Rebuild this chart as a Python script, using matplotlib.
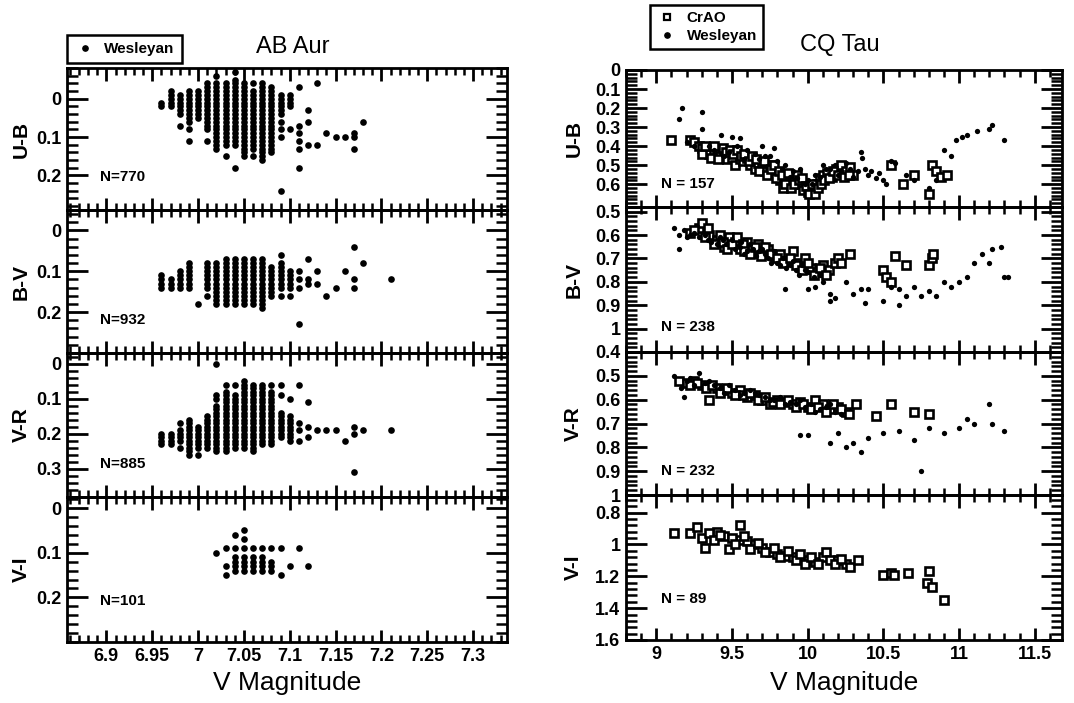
import numpy as np
import matplotlib.pyplot as plt
from matplotlib.ticker import FixedLocator, MultipleLocator, NullFormatter
from matplotlib.lines import Line2D

plt.rcParams['font.family'] = ['Liberation Sans Narrow', 'Liberation Sans', 'DejaVu Sans']

# ---------------- AB Aur (Wesleyan), columns of (V, colour values) ----------------
ab_ub = [
    (6.96, [0.01, 0.02]),
    (6.97, [-0.02, -0.01, 0.00, 0.01, 0.02]),
    (6.98, [-0.01, 0.00, 0.01, 0.02, 0.03, 0.04, 0.07]),
    (6.99, [-0.02, -0.01, 0.00, 0.01, 0.02, 0.03, 0.04, 0.05, 0.06, 0.08, 0.11]),
    (7.00, [-0.02, -0.01, 0.00, 0.01, 0.02, 0.03, 0.04, 0.05]),
    (7.01, [-0.04, -0.03, -0.02, -0.01, 0.00, 0.01, 0.02, 0.03, 0.04, 0.05, 0.06, 0.07, 0.08, 0.11]),
    (7.02, [-0.06, -0.04, -0.03, -0.02, -0.01, 0.00, 0.01, 0.02, 0.03, 0.04, 0.05, 0.06, 0.07, 0.08, 0.09, 0.10, 0.11, 0.12, 0.13]),
    (7.03, [-0.04, -0.03, -0.02, -0.01, 0.00, 0.01, 0.02, 0.03, 0.04, 0.05, 0.06, 0.07, 0.08, 0.09, 0.10, 0.11, 0.12, 0.15]),
    (7.04, [-0.07, -0.05, -0.04, -0.03, -0.02, -0.01, 0.00, 0.01, 0.02, 0.03, 0.04, 0.05, 0.06, 0.07, 0.08, 0.09, 0.10, 0.11, 0.12, 0.18]),
    (7.05, [-0.04, -0.03, -0.02, -0.01, 0.00, 0.01, 0.02, 0.03, 0.04, 0.05, 0.06, 0.07, 0.08, 0.09, 0.10, 0.11, 0.12, 0.13, 0.14, 0.15]),
    (7.06, [-0.04, -0.02, -0.01, 0.00, 0.01, 0.02, 0.03, 0.04, 0.05, 0.06, 0.07, 0.08, 0.09, 0.10, 0.11, 0.12, 0.13, 0.15]),
    (7.07, [-0.04, -0.03, -0.02, -0.01, 0.00, 0.01, 0.02, 0.03, 0.04, 0.05, 0.06, 0.07, 0.08, 0.09, 0.10, 0.11, 0.12, 0.13, 0.14, 0.15, 0.16]),
    (7.08, [-0.03, -0.02, -0.01, 0.00, 0.01, 0.02, 0.03, 0.04, 0.05, 0.06, 0.07, 0.08, 0.09, 0.10, 0.11, 0.12, 0.13, 0.14]),
    (7.09, [-0.01, 0.00, 0.01, 0.02, 0.03, 0.04, 0.06, 0.08, 0.10, 0.24]),
    (7.10, [-0.01, 0.00, 0.01, 0.02, 0.08]),
    (7.11, [-0.03, 0.07, 0.09, 0.11, 0.13, 0.18]),
    (7.12, [0.03, 0.06, 0.12]),
    (7.13, [-0.04, 0.12]),
    (7.14, [0.09]),
    (7.15, [0.10]),
    (7.16, [0.10]),
    (7.17, [0.09, 0.10, 0.13]),
    (7.18, [0.06]),
]

ab_bv = [
    (6.96, [0.11, 0.12, 0.13, 0.14]),
    (6.97, [0.12, 0.13, 0.14]),
    (6.98, [0.10, 0.11, 0.12, 0.13, 0.14]),
    (6.99, [0.08, 0.09, 0.10, 0.11, 0.12, 0.13, 0.14]),
    (7.00, [0.18]),
    (7.01, [0.08, 0.09, 0.10, 0.11, 0.12, 0.13, 0.14, 0.16]),
    (7.02, [0.08, 0.09, 0.10, 0.11, 0.12, 0.13, 0.14, 0.15, 0.16, 0.17, 0.18]),
    (7.03, [0.07, 0.08, 0.09, 0.10, 0.11, 0.12, 0.13, 0.14, 0.15, 0.16, 0.17, 0.18]),
    (7.04, [0.07, 0.08, 0.09, 0.10, 0.11, 0.12, 0.13, 0.14, 0.15, 0.16, 0.17, 0.18]),
    (7.05, [0.07, 0.08, 0.09, 0.10, 0.11, 0.12, 0.13, 0.14, 0.15, 0.16, 0.17, 0.18]),
    (7.06, [0.07, 0.08, 0.09, 0.10, 0.11, 0.12, 0.13, 0.14, 0.15, 0.16, 0.17, 0.18]),
    (7.07, [0.07, 0.08, 0.09, 0.10, 0.11, 0.12, 0.13, 0.14, 0.15, 0.16, 0.17, 0.18, 0.19]),
    (7.08, [0.09, 0.10, 0.11, 0.12, 0.13, 0.14, 0.15, 0.16]),
    (7.09, [0.06, 0.08, 0.09, 0.10, 0.11, 0.12, 0.13, 0.14, 0.16]),
    (7.10, [0.10, 0.11, 0.12, 0.13, 0.14, 0.16]),
    (7.11, [0.10, 0.12, 0.14, 0.23]),
    (7.12, [0.07, 0.12, 0.13]),
    (7.13, [0.10, 0.13]),
    (7.14, [0.16]),
    (7.15, [0.14]),
    (7.16, [0.10]),
    (7.17, [0.04, 0.12, 0.14]),
    (7.18, [0.08]),
    (7.21, [0.12]),
]

ab_vr = [
    (6.96, [0.20, 0.21, 0.22, 0.23]),
    (6.97, [0.20, 0.21, 0.22, 0.23]),
    (6.98, [0.17, 0.19, 0.20, 0.21, 0.22, 0.24]),
    (6.99, [0.16, 0.17, 0.18, 0.19, 0.20, 0.21, 0.22, 0.23, 0.24, 0.25, 0.26]),
    (7.00, [0.18, 0.19, 0.20, 0.21, 0.22, 0.23, 0.24, 0.26]),
    (7.01, [0.15, 0.16, 0.17, 0.18, 0.19, 0.20, 0.21, 0.22, 0.23, 0.24]),
    (7.02, [0.00, 0.09, 0.10, 0.12, 0.13, 0.14, 0.15, 0.16, 0.17, 0.18, 0.19, 0.20, 0.21, 0.22, 0.23, 0.24, 0.25]),
    (7.03, [0.06, 0.08, 0.09, 0.10, 0.11, 0.12, 0.13, 0.14, 0.15, 0.16, 0.17, 0.18, 0.19, 0.20, 0.21, 0.22, 0.23, 0.24, 0.25]),
    (7.04, [0.06, 0.09, 0.10, 0.11, 0.12, 0.13, 0.14, 0.15, 0.16, 0.17, 0.18, 0.19, 0.20, 0.21, 0.22, 0.23, 0.24]),
    (7.05, [0.05, 0.06, 0.07, 0.08, 0.09, 0.10, 0.11, 0.12, 0.13, 0.14, 0.15, 0.16, 0.17, 0.18, 0.19, 0.20, 0.21, 0.22, 0.23, 0.24]),
    (7.06, [0.06, 0.07, 0.08, 0.09, 0.10, 0.11, 0.12, 0.13, 0.14, 0.15, 0.16, 0.17, 0.18, 0.19, 0.20, 0.21, 0.22, 0.23, 0.24, 0.25]),
    (7.07, [0.06, 0.07, 0.08, 0.09, 0.10, 0.11, 0.12, 0.13, 0.14, 0.15, 0.16, 0.17, 0.18, 0.19, 0.20, 0.21, 0.22, 0.23]),
    (7.08, [0.06, 0.08, 0.09, 0.10, 0.11, 0.12, 0.13, 0.14, 0.15, 0.16, 0.17, 0.18, 0.19, 0.20, 0.21, 0.22, 0.23]),
    (7.09, [0.06, 0.09, 0.14, 0.15, 0.16, 0.17, 0.18, 0.19, 0.20, 0.21]),
    (7.10, [0.10, 0.15, 0.16, 0.17, 0.18, 0.19, 0.20, 0.21, 0.22]),
    (7.11, [0.06, 0.17, 0.19, 0.22]),
    (7.12, [0.11, 0.18, 0.21]),
    (7.13, [0.19]),
    (7.14, [0.19]),
    (7.15, [0.19]),
    (7.16, [0.22]),
    (7.17, [0.18, 0.20, 0.31]),
    (7.18, [0.19]),
    (7.21, [0.19]),
]

ab_vi = [
    (7.02, [0.10]),
    (7.03, [0.09, 0.13, 0.15]),
    (7.04, [0.06, 0.09, 0.11, 0.12, 0.13, 0.14]),
    (7.05, [0.05, 0.07, 0.09, 0.11, 0.12, 0.13, 0.14]),
    (7.06, [0.09, 0.11, 0.12, 0.13, 0.14]),
    (7.07, [0.09, 0.11, 0.12, 0.13, 0.14]),
    (7.08, [0.09, 0.12, 0.13, 0.14]),
    (7.09, [0.09, 0.15]),
    (7.10, [0.13]),
    (7.11, [0.09]),
    (7.12, [0.13]),
]

# ---------------- CQ Tau, (V, colour) pairs ----------------
cq_ub_crao = [
    (9.10, 0.37), (9.22, 0.37), (9.25, 0.38), (9.28, 0.40), (9.30, 0.41), (9.33, 0.42),
    (9.35, 0.44), (9.38, 0.43), (9.40, 0.42), (9.42, 0.45), (9.45, 0.44), (9.47, 0.47),
    (9.50, 0.46), (9.52, 0.50), (9.55, 0.47), (9.57, 0.48), (9.60, 0.46), (9.62, 0.50),
    (9.65, 0.52), (9.67, 0.49), (9.70, 0.51), (9.72, 0.53), (9.75, 0.50), (9.77, 0.54),
    (9.80, 0.55), (9.82, 0.58), (9.84, 0.62), (9.86, 0.56), (9.88, 0.59), (9.90, 0.57),
    (9.93, 0.55), (9.95, 0.60), (9.97, 0.63), (10.00, 0.64), (10.02, 0.62), (10.04, 0.63),
    (10.06, 0.60), (10.08, 0.57), (10.10, 0.55), (10.13, 0.54), (10.16, 0.56), (10.19, 0.52),
    (10.22, 0.50), (10.25, 0.53), (10.28, 0.51), (10.30, 0.55), (10.55, 0.50), (10.63, 0.60),
    (10.70, 0.55), (10.82, 0.50), (10.85, 0.53), (10.88, 0.56), (10.92, 0.55), (10.80, 0.65),
    (9.30, 0.44), (9.32, 0.40), (9.36, 0.46), (9.38, 0.40), (9.41, 0.47), (9.44, 0.41),
    (9.46, 0.43), (9.49, 0.42), (9.51, 0.44), (9.53, 0.42), (9.56, 0.45), (9.58, 0.44),
    (9.61, 0.48), (9.63, 0.45), (9.66, 0.47), (9.68, 0.53), (9.71, 0.48), (9.73, 0.55),
    (9.76, 0.52), (9.78, 0.50), (9.79, 0.57), (9.81, 0.53), (9.83, 0.55), (9.85, 0.60),
    (9.87, 0.54), (9.89, 0.62), (9.91, 0.60), (9.94, 0.58), (9.96, 0.57), (9.99, 0.61),
    (10.01, 0.65), (10.03, 0.60), (10.05, 0.65), (10.07, 0.62), (10.09, 0.60), (10.11, 0.58),
    (10.14, 0.57), (10.17, 0.53), (10.20, 0.55), (10.24, 0.56), (10.27, 0.55),
]
cq_ub_wes = [
    (9.17, 0.20), (9.15, 0.26), (9.30, 0.22), (9.30, 0.31), (9.43, 0.34), (9.50, 0.35),
    (9.55, 0.36), (9.53, 0.40), (9.20, 0.38), (9.35, 0.40), (9.45, 0.45), (9.60, 0.42),
    (9.65, 0.44), (9.70, 0.40), (9.75, 0.45), (9.80, 0.48), (9.78, 0.41), (9.85, 0.50),
    (9.90, 0.53), (9.95, 0.52), (10.00, 0.58), (10.05, 0.55), (10.10, 0.50), (10.15, 0.52),
    (10.20, 0.55), (10.25, 0.49), (10.28, 0.52), (10.30, 0.56), (10.33, 0.53), (10.35, 0.43),
    (10.36, 0.46), (10.40, 0.55), (10.45, 0.57), (10.50, 0.58), (10.52, 0.60), (10.55, 0.48),
    (10.58, 0.49), (10.65, 0.55), (10.70, 0.58), (10.80, 0.62), (10.85, 0.58), (10.90, 0.42),
    (10.95, 0.45), (10.98, 0.37), (11.02, 0.35), (11.05, 0.34), (11.20, 0.31), (11.22, 0.29),
    (11.30, 0.37), (11.12, 0.32),
    (9.25, 0.40), (9.38, 0.42), (9.48, 0.43), (9.58, 0.47), (9.68, 0.47), (9.72, 0.45),
    (9.83, 0.52), (9.88, 0.56), (9.93, 0.57), (9.98, 0.60), (10.03, 0.60), (10.08, 0.56),
    (10.12, 0.52), (10.18, 0.50), (10.22, 0.53), (10.38, 0.52), (10.42, 0.53), (10.47, 0.54),
]

cq_bv_crao = [
    (9.22, 0.59), (9.28, 0.57), (9.30, 0.55), (9.35, 0.60), (9.40, 0.62), (9.45, 0.65),
    (9.48, 0.61), (9.52, 0.63), (9.55, 0.66), (9.60, 0.63), (9.63, 0.66), (9.67, 0.64),
    (9.70, 0.67), (9.74, 0.66), (9.78, 0.69), (9.82, 0.68), (9.86, 0.71), (9.90, 0.67),
    (9.94, 0.72), (9.98, 0.70), (10.02, 0.74), (10.06, 0.76), (10.10, 0.73), (10.14, 0.75),
    (10.18, 0.72), (10.20, 0.70), (10.22, 0.72), (10.28, 0.68), (10.50, 0.75), (10.52, 0.78),
    (10.55, 0.80), (10.58, 0.69), (10.65, 0.73), (10.80, 0.73), (10.82, 0.70), (10.83, 0.68),
    (9.25, 0.58), (9.32, 0.61), (9.34, 0.57), (9.38, 0.64), (9.42, 0.60), (9.44, 0.63),
    (9.47, 0.66), (9.50, 0.64), (9.53, 0.61), (9.57, 0.64), (9.58, 0.67), (9.62, 0.68),
    (9.65, 0.65), (9.69, 0.69), (9.72, 0.65), (9.76, 0.68), (9.80, 0.70), (9.84, 0.72),
    (9.88, 0.70), (9.92, 0.73), (9.96, 0.75), (10.00, 0.72), (10.04, 0.77), (10.08, 0.74),
    (10.12, 0.77),
]
cq_bv_wes = [
    (9.12, 0.57), (9.15, 0.60), (9.18, 0.58), (9.20, 0.61), (9.25, 0.59), (9.15, 0.66),
    (9.32, 0.60), (9.36, 0.63), (9.42, 0.61), (9.46, 0.64), (9.50, 0.62), (9.55, 0.65),
    (9.58, 0.68), (9.62, 0.64), (9.66, 0.69), (9.70, 0.66), (9.74, 0.70), (9.78, 0.67),
    (9.80, 0.72), (9.84, 0.70), (9.88, 0.73), (9.92, 0.75), (9.96, 0.73), (10.00, 0.76),
    (9.85, 0.83), (10.00, 0.83), (10.05, 0.82), (10.10, 0.80), (10.15, 0.85), (10.18, 0.87),
    (10.25, 0.80), (10.30, 0.85), (10.35, 0.83), (10.40, 0.83), (10.50, 0.88), (10.55, 0.82),
    (10.60, 0.83), (10.65, 0.86), (10.70, 0.82), (10.75, 0.86), (10.80, 0.84), (10.85, 0.86),
    (10.90, 0.80), (10.95, 0.82), (11.00, 0.80), (11.05, 0.78), (11.10, 0.72), (11.15, 0.68),
    (11.20, 0.72), (11.22, 0.66), (11.28, 0.65), (11.30, 0.78), (11.32, 0.78), (10.38, 0.89),
    (10.60, 0.90), (10.15, 0.88),
    (9.22, 0.60), (9.28, 0.61), (9.34, 0.62), (9.40, 0.64), (9.44, 0.62), (9.52, 0.66),
    (9.56, 0.63), (9.60, 0.67), (9.64, 0.66), (9.68, 0.67), (9.72, 0.68), (9.76, 0.72),
    (9.82, 0.73), (9.86, 0.74), (9.90, 0.71), (9.94, 0.77), (9.98, 0.75), (10.04, 0.78),
    (10.08, 0.77),
]

cq_vr_crao = [
    (9.15, 0.52), (9.20, 0.53), (9.25, 0.52), (9.30, 0.54), (9.35, 0.60), (9.40, 0.55),
    (9.45, 0.56), (9.50, 0.57), (9.55, 0.56), (9.60, 0.59), (9.65, 0.58), (9.70, 0.60),
    (9.75, 0.62), (9.80, 0.60), (9.85, 0.61), (9.90, 0.62), (9.95, 0.61), (10.00, 0.63),
    (10.05, 0.60), (10.10, 0.62), (10.15, 0.64), (10.20, 0.63), (10.25, 0.65), (10.32, 0.62),
    (10.45, 0.67), (10.55, 0.62), (10.70, 0.65), (10.80, 0.66),
    (9.22, 0.54), (9.27, 0.53), (9.33, 0.55), (9.37, 0.54), (9.42, 0.57), (9.47, 0.55),
    (9.52, 0.58), (9.57, 0.58), (9.62, 0.57), (9.67, 0.60), (9.72, 0.59), (9.77, 0.61),
    (9.82, 0.62), (9.87, 0.60), (9.92, 0.63), (9.97, 0.62), (10.02, 0.64), (10.07, 0.63),
    (10.12, 0.65), (10.17, 0.62), (10.22, 0.64), (10.27, 0.66),
]
cq_vr_wes = [
    (9.12, 0.50), (9.16, 0.55), (9.18, 0.59), (9.22, 0.51), (9.28, 0.49), (9.32, 0.53),
    (9.38, 0.54), (9.42, 0.55), (9.48, 0.54), (9.52, 0.56), (9.58, 0.57), (9.62, 0.56),
    (9.68, 0.58), (9.72, 0.59), (9.78, 0.60), (9.82, 0.59), (9.88, 0.61), (9.92, 0.62),
    (9.98, 0.63), (10.02, 0.62), (10.08, 0.64), (10.12, 0.63), (10.18, 0.65), (10.22, 0.66),
    (9.95, 0.75), (10.00, 0.75), (10.15, 0.78), (10.20, 0.74), (10.25, 0.80), (10.30, 0.78),
    (10.35, 0.82), (10.40, 0.76), (10.50, 0.74), (10.60, 0.73), (10.70, 0.77), (10.75, 0.90),
    (10.80, 0.72), (10.90, 0.74), (11.00, 0.72), (11.05, 0.68), (11.10, 0.70), (11.20, 0.62),
    (11.22, 0.70), (11.30, 0.73),
    (9.20, 0.52), (9.25, 0.54), (9.35, 0.52), (9.45, 0.57), (9.55, 0.58), (9.65, 0.57),
    (9.75, 0.60), (9.85, 0.62), (9.95, 0.60), (10.05, 0.65), (10.15, 0.62),
]

cq_vi_crao = [
    (9.12, 0.93), (9.22, 0.93), (9.27, 0.89), (9.30, 0.96), (9.32, 1.02), (9.40, 0.92),
    (9.45, 0.95), (9.48, 1.03), (9.55, 0.88), (9.55, 0.97), (9.60, 0.98), (9.65, 1.00),
    (9.70, 1.02), (9.75, 1.05), (9.80, 1.06), (9.85, 1.07), (9.90, 1.08), (10.00, 1.10),
    (10.05, 1.11), (10.10, 1.08), (10.12, 1.05), (10.15, 1.10), (10.20, 1.10), (10.25, 1.12),
    (10.28, 1.14), (10.33, 1.10), (10.50, 1.19), (10.55, 1.18), (10.57, 1.19), (10.66, 1.18),
    (10.80, 1.17), (10.79, 1.24), (10.82, 1.27), (10.90, 1.35),
    (9.35, 0.93), (9.38, 0.97), (9.42, 0.94), (9.50, 0.96), (9.52, 1.00), (9.58, 0.95),
    (9.62, 1.03), (9.67, 0.99), (9.72, 1.05), (9.78, 1.02), (9.82, 1.08), (9.87, 1.04),
    (9.92, 1.10), (9.95, 1.06), (9.98, 1.12), (10.02, 1.08), (10.07, 1.12), (10.18, 1.12),
    (10.22, 1.09),
]

n_ab = ['N=770', 'N=932', 'N=885', 'N=101']
n_cq = ['N = 157', 'N = 238', 'N = 232', 'N = 89']
color_names = ['U-B', 'B-V', 'V-R', 'V-I']

W, H = 1074, 703
fig = plt.figure(figsize=(W / 100, H / 100), dpi=100)


def px_axes(x0, x1, y0, y1):
    return fig.add_axes([x0 / W, 1 - y1 / H, (x1 - x0) / W, (y1 - y0) / H])


def style(ax, ylim, yticks, ylabels, yminor, xlim, xticks, xlabels, xminor):
    ax.set_xlim(*xlim)
    ax.set_ylim(*ylim)
    ax.yaxis.set_major_locator(FixedLocator(yticks))
    ax.yaxis.set_minor_locator(MultipleLocator(yminor))
    ax.yaxis.set_minor_formatter(NullFormatter())
    ax.set_yticklabels(ylabels, fontweight='bold', fontsize=13)
    ax.xaxis.set_major_locator(FixedLocator(xticks))
    ax.xaxis.set_minor_locator(MultipleLocator(xminor))
    ax.xaxis.set_minor_formatter(NullFormatter())
    if xlabels:
        ax.set_xticklabels(xlabels, fontweight='bold', fontsize=13)
    else:
        ax.set_xticklabels([''] * len(xticks))
    ax.xaxis.set_ticks_position('both')
    ax.yaxis.set_ticks_position('both')
    ax.tick_params(axis='both', which='both', direction='in', pad=4)
    ax.tick_params(axis='y', which='major', length=15, width=2.0)
    ax.tick_params(axis='y', which='minor', length=8, width=1.8)
    ax.tick_params(axis='x', which='major', length=9, width=2.0)
    ax.tick_params(axis='x', which='minor', length=5, width=1.8)
    for s in ax.spines.values():
        s.set_linewidth(2)
        s.set_zorder(0.4)


# left column: AB Aur
ab_rows = [(68, 210), (210, 353), (353, 497), (497, 642)]
ab_ylims = [(0.29, -0.08), (0.30, -0.05), (0.38, -0.03), (0.30, -0.025)]
ab_yticks = [[0, 0.1, 0.2], [0, 0.1, 0.2], [0, 0.1, 0.2, 0.3], [0, 0.1, 0.2]]
ab_ylabs = [['0', '0.1', '0.2'], ['0', '0.1', '0.2'], ['0', '0.1', '0.2', '0.3'], ['0', '0.1', '0.2']]
ab_data = [ab_ub, ab_bv, ab_vr, ab_vi]
ab_xticks = [6.9, 6.95, 7.0, 7.05, 7.1, 7.15, 7.2, 7.25, 7.3]
ab_xlabs = ['6.9', '6.95', '7', '7.05', '7.1', '7.15', '7.2', '7.25', '7.3']

for i, (y0, y1) in enumerate(ab_rows):
    ax = px_axes(67, 507, y0, y1)
    ax.set_facecolor('none')
    xs = [v for v, cs in ab_data[i] for c in cs]
    ys = [c for v, cs in ab_data[i] for c in cs]
    ax.plot(xs, ys, 'o', color='black', markersize=4.8, markeredgewidth=0)
    style(ax, ab_ylims[i], ab_yticks[i], ab_ylabs[i], 0.02, (6.857, 7.337),
          ab_xticks, ab_xlabs if i == 3 else None, 0.01)
    ax.set_ylabel(color_names[i], fontsize=15, fontweight='bold')
    ax.yaxis.set_label_coords(-0.082, 0.5)
    ax.text(0.075, 0.23 if i < 3 else 0.28, n_ab[i], transform=ax.transAxes,
            fontsize=11, fontweight='bold', va='center')

# right column: CQ Tau
cq_rows = [(70, 207), (207, 352), (352, 495), (495, 640)]
cq_ylims = [(0.72, 0.0), (1.10, 0.48), (1.0, 0.4), (1.6, 0.69)]
cq_yticks = [[0, 0.1, 0.2, 0.3, 0.4, 0.5, 0.6], [0.5, 0.6, 0.7, 0.8, 0.9, 1.0],
             [0.4, 0.5, 0.6, 0.7, 0.8, 0.9, 1.0], [0.8, 1.0, 1.2, 1.4, 1.6]]
cq_ylabs = [['0', '0.1', '0.2', '0.3', '0.4', '0.5', '0.6'], ['0.5', '0.6', '0.7', '0.8', '0.9', '1'],
            ['0.4', '0.5', '0.6', '0.7', '0.8', '0.9', '1'], ['0.8', '1', '1.2', '1.4', '1.6']]
cq_minor = [0.02, 0.02, 0.02, 0.04]
cq_crao = [cq_ub_crao, cq_bv_crao, cq_vr_crao, cq_vi_crao]
cq_wes = [cq_ub_wes, cq_bv_wes, cq_vr_wes, []]
cq_xticks = [9, 9.5, 10, 10.5, 11, 11.5]
cq_xlabs = ['9', '9.5', '10', '10.5', '11', '11.5']

for i, (y0, y1) in enumerate(cq_rows):
    ax = px_axes(626, 1062, y0, y1)
    ax.set_facecolor('none')
    if cq_crao[i]:
        v, c = zip(*cq_crao[i])
        ax.plot(v, c, 's', mfc='white', mec='black', markersize=5.3, markeredgewidth=1.9)
    if cq_wes[i]:
        v, c = zip(*cq_wes[i])
        ax.plot(v, c, 'o', color='black', markersize=3.8, markeredgewidth=0)
    style(ax, cq_ylims[i], cq_yticks[i], cq_ylabs[i], cq_minor[i], (8.8, 11.68),
          cq_xticks, cq_xlabs if i == 3 else None, 0.1)
    ax.set_ylabel(color_names[i], fontsize=15, fontweight='bold')
    ax.yaxis.set_label_coords(-0.098, 0.5)
    ax.text(0.08, 0.17 if i < 3 else 0.28, n_cq[i], transform=ax.transAxes,
            fontsize=11, fontweight='bold', va='center')

# titles, x labels
fig.text(293 / W, 1 - 47 / H, 'AB Aur', ha='center', va='center', fontsize=17)
fig.text(840 / W, 1 - 45 / H, 'CQ Tau', ha='center', va='center', fontsize=17)
fig.text(287 / W, 1 - 683 / H, 'V Magnitude', ha='center', va='center', fontsize=19)
fig.text(844 / W, 1 - 683 / H, 'V Magnitude', ha='center', va='center', fontsize=19)

# legends
wes_h = Line2D([], [], marker='o', color='black', linestyle='none', markersize=3.8)
crao_h = Line2D([], [], marker='s', mfc='white', mec='black', linestyle='none',
                markersize=5, markeredgewidth=1.6)
leg1 = fig.legend([wes_h], ['Wesleyan'], loc='upper left', bbox_to_anchor=(67 / W, 1 - 35 / H),
                  borderaxespad=0, fancybox=False, edgecolor='black', framealpha=1,
                  borderpad=0.45, handlelength=1.4, handletextpad=0.6,
                  prop={'weight': 'bold', 'size': 11})
leg1.get_frame().set_linewidth(1.8)
leg2 = fig.legend([crao_h, wes_h], ['CrAO', 'Wesleyan'], loc='upper left',
                  bbox_to_anchor=(650 / W, 1 - 5 / H), borderaxespad=0, fancybox=False,
                  edgecolor='black', framealpha=1, borderpad=0.4, labelspacing=0.25,
                  handlelength=1.4, handletextpad=0.6, prop={'weight': 'bold', 'size': 11})
leg2.get_frame().set_linewidth(1.8)

fig.savefig('out.png', dpi=100)
